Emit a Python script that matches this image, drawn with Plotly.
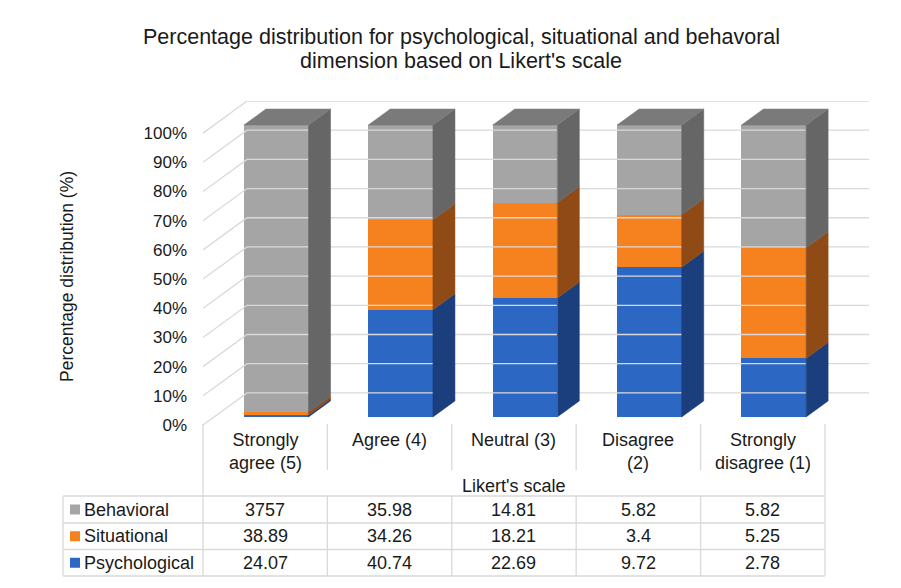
import plotly.graph_objects as go

# ---- data ----
categories = ["Strongly<br>agree (5)", "Agree (4)", "Neutral (3)", "Disagree<br>(2)", "Strongly<br>disagree (1)"]
series_names = ["Behavioral", "Situational", "Psychological"]
behavioral = [3757, 35.98, 14.81, 5.82, 5.82]
situational = [38.89, 34.26, 18.21, 3.4, 5.25]
psychological = [24.07, 40.74, 22.69, 9.72, 2.78]
behavioral_text = ["3757", "35.98", "14.81", "5.82", "5.82"]
situational_text = ["38.89", "34.26", "18.21", "3.4", "5.25"]
psychological_text = ["24.07", "40.74", "22.69", "9.72", "2.78"]
y_ticks = [0, 10, 20, 30, 40, 50, 60, 70, 80, 90, 100]
title_lines = ["Percentage distribution for psychological, situational and behavoral",
               "dimension based on Likert's scale"]

# ---- styling ----
FONT = "Liberation Sans, Arial, Helvetica, sans-serif"
TXT = "#1a1a1a"
GRID = "#d9d9d9"
COLORS = {
    "Psychological": {"front": "#2c68c3", "side": "#1b3f7c", "top": "#24569f"},
    "Situational": {"front": "#f5821f", "side": "#8f4a15", "top": "#c4681a"},
    "Behavioral": {"front": "#a5a5a5", "side": "#666666", "top": "#7a7a7a"},
}

W, H = 901, 588
ML, MR, MT, MB = 203, 32, 101, 163
PW, PH = W - ML - MR, H - MT - MB

# pseudo-3D depth of the floor/walls (in axis units) and bar geometry
DX, DY = 0.354, 11.0
BAR_W = 0.52
FRONT = 0.25  # bar front sits a quarter of the way into the depth
DEPTH = 0.5   # bar occupies half of the depth

XMIN, XMAX = -0.5, len(categories) - 0.5 + DX
YMIN, YMAX = 0, 100 + DY


def xpaper(u):
    return (u - XMIN) / (XMAX - XMIN)


def xpix(p):
    return (p - ML) / PW


def ypix(p):
    return (H - MB - p) / PH


# 100% stacked shares, bottom to top
stack = [("Psychological", psychological), ("Situational", situational), ("Behavioral", behavioral)]
totals = [sum(v[i] for _, v in stack) for i in range(len(categories))]

fig = go.Figure()

# back wall gridlines + side wall diagonals
gx, gy = [], []
for t in y_ticks:
    gx += [XMIN, XMIN + DX, XMAX, None]
    gy += [t, t + DY, t + DY, None]
fig.add_trace(go.Scatter(x=gx, y=gy, mode="lines", line=dict(color=GRID, width=1.3),
                         hoverinfo="skip", showlegend=False))

fx, fy = FRONT * DX, FRONT * DY
dx, dy = DEPTH * DX, DEPTH * DY
xs = [i + fx for i in range(len(categories))]

bottom = [0.0] * len(categories)
for name, vals in stack:
    share = [vals[i] / totals[i] * 100 for i in range(len(categories))]
    c = COLORS[name]
    # front faces
    fig.add_trace(go.Bar(x=xs, y=share, base=[b + fy for b in bottom], width=BAR_W,
                         marker=dict(color=c["front"], line=dict(width=0)),
                         name=name, showlegend=False, hoverinfo="skip"))
    # side faces
    sx, sy = [], []
    for i in range(len(categories)):
        xr = xs[i] + BAR_W / 2
        b0, b1 = bottom[i] + fy, bottom[i] + share[i] + fy
        sx += [xr, xr + dx, xr + dx, xr, xr, None]
        sy += [b0, b0 + dy, b1 + dy, b1, b0, None]
    fig.add_trace(go.Scatter(x=sx, y=sy, mode="lines", fill="toself", fillcolor=c["side"],
                             line=dict(color=c["side"], width=0.5),
                             hoverinfo="skip", showlegend=False))
    bottom = [bottom[i] + share[i] for i in range(len(categories))]

# top face of each stack (behavioral colour)
tx, ty = [], []
for i in range(len(categories)):
    xl, xr = xs[i] - BAR_W / 2, xs[i] + BAR_W / 2
    t = bottom[i] + fy
    tx += [xl, xr, xr + dx, xl + dx, xl, None]
    ty += [t, t, t + dy, t + dy, t, None]
fig.add_trace(go.Scatter(x=tx, y=ty, mode="lines", fill="toself", fillcolor=COLORS["Behavioral"]["top"],
                         line=dict(color=COLORS["Behavioral"]["top"], width=0.5),
                         hoverinfo="skip", showlegend=False))

shapes = []
annotations = []


def hline(y, x0, x1):
    shapes.append(dict(type="line", xref="paper", yref="paper", x0=x0, x1=x1, y0=ypix(y), y1=ypix(y),
                       line=dict(color=GRID, width=1.3)))


def vline(x, y0, y1):
    shapes.append(dict(type="line", xref="paper", yref="paper", x0=x, x1=x, y0=ypix(y0), y1=ypix(y1),
                       line=dict(color=GRID, width=1.3)))


n = len(categories)
left_edge = xpaper(-0.5)
right_edge = xpaper(n - 0.5)
table_left = xpix(63)
row_lines = [496, 523, 549.5, 576]

# category label cells
vline(left_edge, 424, 576)
vline(right_edge, 424, 576)
for i in range(1, n):
    vline(xpaper(i - 0.5), 424, 470)
    vline(xpaper(i - 0.5), 496, 576)
for yl in row_lines:
    hline(yl, table_left, right_edge)
vline(table_left, 496, 576)

for i, cat in enumerate(categories):
    annotations.append(dict(x=xpaper(i), y=ypix(428), xref="paper", yref="paper", text=cat,
                            showarrow=False, xanchor="center", yanchor="top",
                            font=dict(size=18, color=TXT, family=FONT)))

annotations.append(dict(x=xpaper((n - 1) / 2), y=ypix(486), xref="paper", yref="paper",
                        text="Likert's scale", showarrow=False, xanchor="center", yanchor="middle",
                        font=dict(size=18, color=TXT, family=FONT)))

# data table rows with legend keys
rows = [("Behavioral", behavioral_text), ("Situational", situational_text), ("Psychological", psychological_text)]
for r, (name, texts) in enumerate(rows):
    yc = (row_lines[r] + row_lines[r + 1]) / 2
    shapes.append(dict(type="rect", xref="paper", yref="paper", x0=xpix(70), x1=xpix(80),
                       y0=ypix(yc - 5), y1=ypix(yc + 5), fillcolor=COLORS[name]["front"],
                       line=dict(width=0)))
    annotations.append(dict(x=xpix(82), y=ypix(yc), xref="paper", yref="paper", text=name,
                            showarrow=False, xanchor="left", yanchor="middle",
                            font=dict(size=18, color=TXT, family=FONT)))
    for i, t in enumerate(texts):
        annotations.append(dict(x=xpaper(i), y=ypix(yc), xref="paper", yref="paper", text=t,
                                showarrow=False, xanchor="center", yanchor="middle",
                                font=dict(size=18, color=TXT, family=FONT)))

# y axis title, centred on the 0-100% span
annotations.append(dict(x=xpix(67), y=ypix(277), xref="paper", yref="paper",
                        text="Percentage distribution (%)", textangle=-90, showarrow=False,
                        xanchor="center", yanchor="middle",
                        font=dict(size=17.5, color=TXT, family=FONT)))

# chart title (two lines)
for line, yc in zip(title_lines, [37.5, 61]):
    annotations.append(dict(x=xpix(461), y=ypix(yc), xref="paper", yref="paper", text=line,
                            showarrow=False, xanchor="center", yanchor="middle",
                            font=dict(size=21.5, color=TXT, family=FONT)))

fig.update_layout(
    width=W, height=H,
    margin=dict(l=ML, r=MR, t=MT, b=MB, pad=0),
    paper_bgcolor="white", plot_bgcolor="white",
    barmode="overlay", bargap=0,
    font=dict(family=FONT, color=TXT, size=17),
    xaxis=dict(range=[XMIN, XMAX], visible=False, fixedrange=True),
    yaxis=dict(range=[YMIN, YMAX], tickvals=y_ticks, ticktext=[f"{v}%" for v in y_ticks],
               showgrid=False, zeroline=False, showline=False, ticks="",
               ticklabelstandoff=15, tickfont=dict(size=17, color=TXT, family=FONT),
               fixedrange=True),
    shapes=shapes,
    annotations=annotations,
    showlegend=False,
)

fig.write_html("out.html")
